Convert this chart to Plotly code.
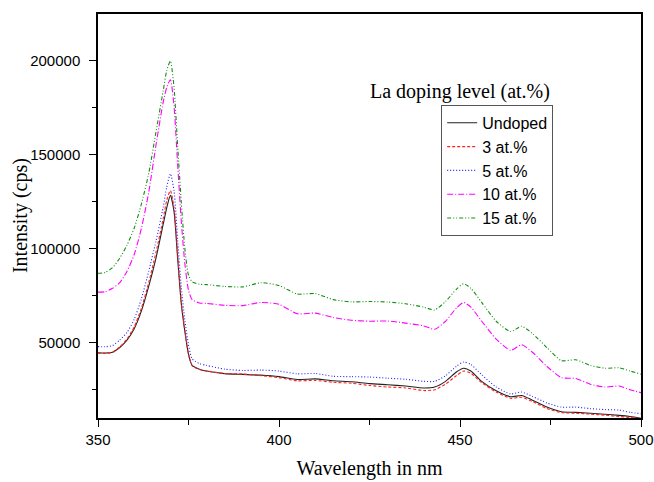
import plotly.graph_objects as go

# Emission wavelength (nm)
wavelength = [350, 352, 354, 356, 358, 360, 362, 364, 366, 368, 369, 370, 371, 372,
              373, 374, 375, 376, 378, 380, 385, 390, 395, 400, 405, 410, 415, 420,
              425, 430, 435, 440, 443, 446, 449, 451, 453, 456, 460, 464, 467, 470,
              474, 478, 482, 486, 490, 494, 497, 500]

# PL intensity (cps) for each La doping level
undoped = [44700, 44600, 45000, 47500, 51400, 57500, 67000, 80000, 95000, 113000, 122000, 128500, 120000, 95000,
           71000, 56000, 44000, 38000, 36000, 35000, 33600, 33200, 32800, 32000, 30500, 30800, 29800, 29300,
           28300, 27700, 27000, 26000, 26500, 29500, 34500, 36500, 35000, 29500, 24500, 21300, 22000, 19500,
           15800, 13300, 13000, 12500, 12000, 11400, 10800, 9900]
la_3 = [44500, 44400, 45000, 47800, 52000, 58500, 68500, 82000, 98000, 116000, 126000, 131000, 122000, 97000,
        72000, 56500, 44000, 37800, 35800, 35000, 33700, 33400, 32500, 31500, 29800, 30000, 29000, 28500,
        27300, 26500, 26000, 24600, 25000, 28000, 32500, 35000, 33800, 28800, 23800, 20500, 21000, 18800,
        15000, 12900, 12500, 12100, 11500, 10800, 10300, 9700]
la_5 = [48000, 47900, 48500, 51500, 55500, 62500, 73500, 88000, 104000, 122000, 133000, 140000, 131000, 105000,
        80000, 62000, 49000, 41500, 39000, 38000, 36000, 35300, 35500, 35000, 33500, 33700, 32200, 32000,
        31800, 31200, 30600, 29500, 29500, 32500, 37500, 39800, 38500, 33000, 26500, 22800, 23800, 21500,
        18000, 15800, 15800, 15000, 14500, 14200, 13000, 12300]
la_10 = [77000, 77200, 79000, 82000, 88000, 97000, 111000, 130000, 155000, 178000, 186000, 190000, 176000, 145000,
         115000, 92000, 78000, 73000, 71200, 71000, 70000, 69800, 71500, 70500, 65500, 65800, 63500, 62000,
         61500, 61600, 60500, 59000, 57200, 61500, 68500, 71500, 69000, 61500, 52000, 46000, 49000, 45000,
         37500, 31500, 31000, 28000, 26500, 27000, 25000, 23500]
la_15 = [87000, 87500, 90000, 95000, 102000, 111000, 124000, 140000, 162000, 184000, 195000, 200000, 186000, 155000,
         125000, 100000, 86000, 82500, 81200, 81000, 80000, 79800, 82000, 80500, 76000, 76200, 73000, 71800,
         72000, 71700, 70800, 69000, 67500, 72000, 78500, 81500, 79000, 71500, 61500, 56000, 58800, 55000,
         47500, 40500, 41000, 38000, 36500, 36700, 35000, 33300]

series_names = ["Undoped", "3 at.%", "5 at.%", "10 at.%", "15 at.%"]
series_values = [undoped, la_3, la_5, la_10, la_15]
series_colors = ["#222222", "#ff2020", "#2020ff", "#ff00ff", "#109010"]
series_dash = ["solid", "3px,2px", "1px,2px", "6px,2px,1px,2px", "4px,2px,1px,2px,1px,2px"]

y_ticks = [50000, 100000, 150000, 200000]
y_tick_labels = ["50000", "100000", "150000", "200000"]

fig = go.Figure()
for name, vals, col, dash in zip(series_names, series_values, series_colors, series_dash):
    fig.add_trace(go.Scatter(
        x=wavelength, y=vals, name=name, mode="lines",
        line=dict(color=col, width=1.1, dash=dash, shape="spline", smoothing=0.6),
    ))

axis_common = dict(
    showline=True, linecolor="black", linewidth=1.5, mirror=True,
    ticks="outside", ticklen=7, tickwidth=1.2, tickcolor="black",
    showgrid=False, zeroline=False, automargin=False,
    tickfont=dict(family="Liberation Sans, Arial", size=15, color="black"),
)

serif = dict(family="Liberation Serif, Times New Roman", size=20, color="black")

fig.update_xaxes(
    range=[350, 500], dtick=50, tick0=350,
    minor=dict(ticks="outside", dtick=25, ticklen=5, tickwidth=1.2, tickcolor="black"),
    title=dict(text="Wavelength in nm", font=serif, standoff=14),
    **axis_common,
)
fig.update_yaxes(
    range=[10000, 225000], tickvals=y_ticks, ticktext=y_tick_labels, ticklabelstandoff=6,
    minor=dict(ticks="outside", tickvals=[25000, 75000, 125000, 175000], ticklen=4, tickwidth=1.2, tickcolor="black"),
    **axis_common,
)

# y-axis title placed as rotated text to the left of the tick labels
fig.add_annotation(
    text="Intensity (cps)", xref="paper", yref="paper",
    x=-0.1435, y=0.5, xanchor="center", yanchor="middle", textangle=-90, showarrow=False,
    font=serif,
)

fig.add_annotation(
    text="La doping level (at.%)", xref="paper", yref="paper",
    x=0.667, y=0.807, xanchor="center", yanchor="middle", showarrow=False,
    font=serif,
)

fig.update_layout(
    width=654, height=482,
    margin=dict(l=98, r=13, t=14, b=64),
    paper_bgcolor="white", plot_bgcolor="white",
    showlegend=True,
    legend=dict(
        x=0.632, y=0.775, xanchor="left", yanchor="top",
        bgcolor="white", bordercolor="#555555", borderwidth=1,
        font=dict(family="Liberation Sans, Arial", size=16, color="black"),
        tracegroupgap=0, itemwidth=30,
    ),
)

fig.write_html("out.html")
